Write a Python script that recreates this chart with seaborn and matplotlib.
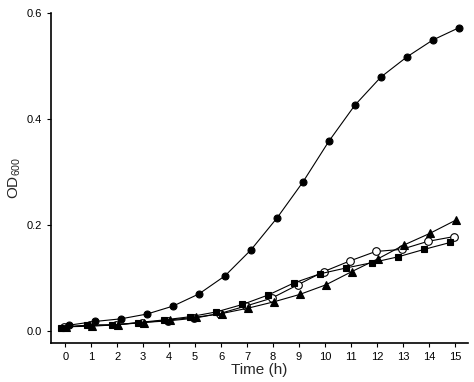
import matplotlib
matplotlib.use("Agg")
import matplotlib.pyplot as plt
import seaborn as sns

# hours (each series measured slightly offset in time)
hours = list(range(16))
od_filled = [0.011, 0.018, 0.023, 0.032, 0.047, 0.070, 0.104, 0.153,
             0.213, 0.281, 0.358, 0.426, 0.479, 0.517, 0.549, 0.572]
od_open = [0.008, 0.011, 0.012, 0.016, 0.019, 0.024, 0.033, 0.047,
           0.062, 0.087, 0.112, 0.132, 0.150, 0.154, 0.169, 0.178]
od_square = [0.006, 0.011, 0.011, 0.016, 0.021, 0.027, 0.036, 0.050,
             0.068, 0.091, 0.108, 0.119, 0.129, 0.140, 0.154, 0.167]
od_triangle = [0.008, 0.009, 0.012, 0.016, 0.021, 0.026, 0.033, 0.043,
               0.055, 0.069, 0.087, 0.112, 0.136, 0.162, 0.184, 0.209]

sns.set_style("ticks")
plt.rcParams["font.family"] = ["Liberation Sans", "DejaVu Sans"]
plt.rcParams["mathtext.default"] = "regular"

fig = plt.figure(figsize=(4.74, 3.82), dpi=100)
ax = fig.add_axes([0.108, 0.103, 0.879, 0.863])

series = [
    (od_filled, 0.15, "o", "black", 5),
    (od_open, -0.05, "o", "white", 5.5),
    (od_square, -0.18, "s", "black", 4.5),
    (od_triangle, 0.03, "^", "black", 5.5),
]
for vals, dx, mk, fc, ms in series:
    sns.lineplot(x=[h + dx for h in hours], y=vals, ax=ax, color="black",
                 linewidth=0.8, marker=mk, markersize=ms,
                 markerfacecolor=fc, markeredgecolor="black",
                 markeredgewidth=0.8)

ax.set_xlim(-0.54, 15.5)
ax.set_ylim(-0.022, 0.6)
ax.set_xticks(hours)
ax.set_yticks([0.0, 0.2, 0.4, 0.6])
ax.set_yticklabels(["0.0", "0.2", "0.4", "0.6"])
ax.tick_params(labelsize=8, length=3, width=0.8, colors="black")
ax.set_xlabel("Time (h)", fontsize=11, labelpad=1)
ax.set_ylabel("OD$_{600}$", fontsize=11, labelpad=3)
for side in ["top", "right"]:
    ax.spines[side].set_visible(False)
for side in ["left", "bottom"]:
    ax.spines[side].set_linewidth(1.2)
    ax.spines[side].set_color("black")

fig.savefig("out.png", dpi=100)
